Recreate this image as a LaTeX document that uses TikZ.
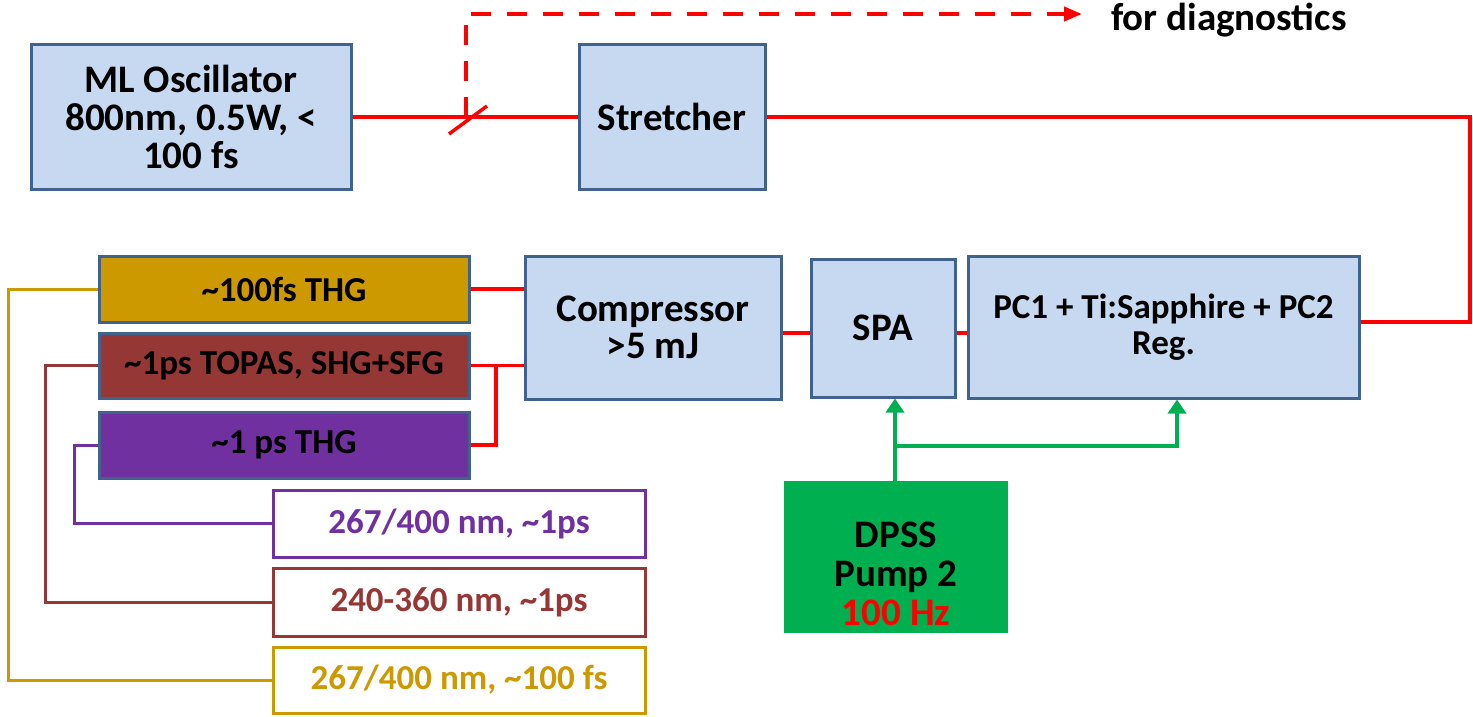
\documentclass[tikz,border=0pt]{standalone}
\usepackage{fontspec}
\setmainfont{Carlito}
\usetikzlibrary{arrows.meta,calc}
\definecolor{boxfill}{HTML}{C6D9F1}
\definecolor{boxline}{HTML}{41628C}
\definecolor{gold}{HTML}{CC9900}
\definecolor{brown}{HTML}{953735}
\definecolor{purp}{HTML}{7030A0}
\definecolor{grn}{HTML}{00B050}
\definecolor{red}{HTML}{FF0000}
\tikzset{
  blk/.style={draw=boxline, line width=3pt, fill=boxfill, inner sep=0pt, align=center,
    font=\fontsize{39}{38}\selectfont\bfseries},
  colbox/.style={draw=boxline, line width=3pt, fill=#1, inner sep=0pt, align=center,
    minimum width=370pt, font=\fontsize{35}{38}\selectfont\bfseries},
  outbox/.style={draw=#1, line width=3pt, fill=white, text=#1, inner sep=0pt, align=center,
    minimum width=372pt, font=\fontsize{35}{38}\selectfont\bfseries},
  beam/.style={draw=red, line width=3.5pt},
  pump/.style={draw=grn, line width=4pt, -{Triangle[length=14pt,width=18pt]}},
  outline/.style={draw=#1, line width=3pt},
}
\begin{document}
\begin{tikzpicture}[x=1pt,y=-1pt]
\useasboundingbox (0,0) rectangle (1473,717);
% main blocks
\node[blk, minimum width=320pt, minimum height=144pt] (osc) at (191,117) {ML Oscillator\\800nm, 0.5W, <\\100 fs};
\node[blk, minimum width=186pt, minimum height=144pt] (str) at (672,117) {Stretcher};
\node[blk, minimum width=391pt, minimum height=142pt, font=\fontsize{35}{36}\selectfont\bfseries] (pc) at (1163.5,327) {PC1 + Ti:Sapphire + PC2\\Reg.};
\node[blk, minimum width=144pt, minimum height=138pt] (spa) at (883,328) {SPA};
\node[blk, minimum width=256pt, minimum height=143pt, font=\fontsize{39}{37}\selectfont\bfseries] (comp) at (653,327.5) {Compressor\\>5 mJ};
% conversion stages
\node[colbox=gold, minimum height=66pt] (thga) at (284,289) {\char`~100fs THG};
\node[colbox=brown, minimum height=65pt] (topas) at (284,365.5) {\char`~1ps TOPAS, SHG+SFG};
\node[colbox=purp, minimum height=66pt] (thgb) at (284,445) {\char`~1 ps THG};
% outputs
\node[outbox=purp, minimum height=67pt] (outp) at (459,523.5) {267/400 nm, \char`~1ps};
\node[outbox=brown, minimum height=68pt] (outb) at (459,602) {240-360 nm, \char`~1ps};
\node[outbox=gold, minimum height=66pt] (outg) at (459,680) {267/400 nm, \char`~100 fs};
% pump
\node[draw=grn, fill=grn, line width=2pt, minimum width=222pt, minimum height=150pt, inner sep=0pt, align=center,
  font=\fontsize{39}{39}\selectfont\bfseries] (dpss) at (896,557)
  {\raisebox{-28pt}[0pt][0pt]{\renewcommand\arraystretch{1}\begin{tabular}{@{}c@{}}DPSS\\Pump 2\\\textcolor{red}{100 Hz}\end{tabular}}};
% diagnostics
\coordinate (mir) at (466,117);
\coordinate (dtop) at (466,14);
\coordinate (dend) at (1082,14);
\node[font=\fontsize{39}{39}\selectfont\bfseries, anchor=west, inner sep=0pt] (diag) at (1111,20) {for diagnostics};
% beam path
\draw[beam] (osc.east) -- (str.west);
\draw[draw=red, line width=3.5pt] ($(mir)+(-17,17)$) -- ($(mir)+(21,-11)$);
\draw[draw=red, line width=4pt, dash pattern=on 20pt off 16pt, -{Triangle[length=18pt,width=14pt]}] (mir) -- (dtop) -- (dend);
\coordinate (rt) at (1470,322);
\draw[beam] (str.east) -| (rt) -- (rt -| pc.east);
\coordinate (ylev) at (0,333);
\draw[beam] (pc.west |- ylev) -- (spa.east |- ylev);
\draw[beam] (spa.west |- ylev) -- (comp.east |- ylev);
\draw[beam] (comp.west |- thga.east) -- (thga.east);
\draw[beam] (comp.west |- topas.east) -- (topas.east);
\coordinate (br) at (496,0);
\draw[beam] (br |- topas.east) |- (thgb.east);
% pump lines
\coordinate (gv) at (895,0);
\coordinate (gj) at (895,446);
\coordinate (gk) at (1177,0);
\draw[pump] (dpss.north -| gv) -- (spa.south -| gv);
\draw[pump] (gj) -| (gk |- pc.south);
% output routing
\coordinate (lg) at (8,0);
\coordinate (lb) at (45,0);
\coordinate (lp) at (74,0);
\draw[outline=gold] (thga.west) -| (lg |- outg.west) -- (outg.west);
\draw[outline=brown] (topas.west) -| (lb |- outb.west) -- (outb.west);
\draw[outline=purp] (thgb.west) -| (lp |- outp.west) -- (outp.west);
\end{tikzpicture}
\end{document}
